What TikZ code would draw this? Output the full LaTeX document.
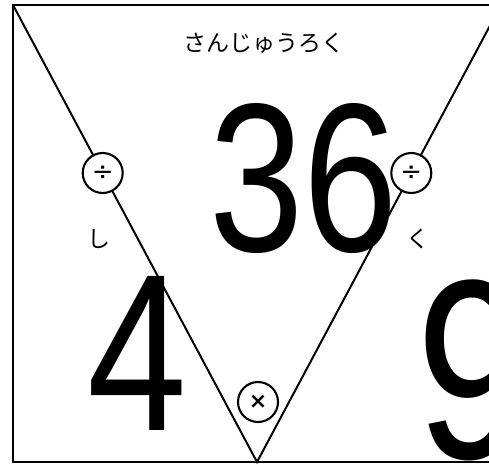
\documentclass[tikz,border=0pt]{standalone}
\usepackage{fontspec}
\usetikzlibrary{calc}
\setmainfont{Liberation Sans}
\newfontfamily\jpfont{Noto Sans CJK JP}
\newfontfamily\symfont{DejaVu Sans}
\newcommand{\bignum}[2]{\fontsize{#1}{#1}\selectfont\scalebox{0.8}[1]{#2}}
\begin{document}
\begin{tikzpicture}[x=1pt,y=-1pt,
  frameline/.style={line width=2.4pt},
  vline/.style={line width=2pt},
  opcirc/.style={circle,draw,fill=white,line width=2.1pt,minimum size=40pt,inner sep=0pt},
  kana/.style={font=\jpfont\fontsize{23}{23}\selectfont,inner sep=0pt},
  numtxt/.style={inner sep=0pt,anchor=base west}]
\clip (0,0) rectangle (489,464);
\fill[white] (0,0) rectangle (489,464);
\coordinate (tl) at (13,5);
\coordinate (tr) at (501,5);
\coordinate (br) at (501,462);
\coordinate (bl) at (13,462);
\coordinate (apex) at (257,462);
\draw[frameline] (tl) -- (tr) -- (br) -- (bl) -- cycle;
\draw[vline] (tl) -- (apex) -- (tr);
% big numbers
\node[numtxt] (n36) at (209,251) {\bignum{212}{36}};
\node[numtxt] (n4) at (87,430) {\bignum{224}{4}};
\node[numtxt] (n9) at (416,458) {\bignum{256}{9}};
% operators
\node[opcirc] (divl) at ($(tl)!0.3676!(apex)$) {\symfont\fontsize{26}{26}\selectfont ÷};
\node[opcirc] (divr) at ($(tr)!0.3676!(apex)$) {\symfont\fontsize{26}{26}\selectfont ÷};
\node[opcirc] (mul) at (258,402) {\symfont\bfseries\fontsize{22}{22}\selectfont ×};
% kana
\node[kana] (title) at (264,43) {さんじゅうろく};
\node[kana] (shi) at (99,239) {し};
\node[kana] (ku) at (418,239) {く};
\end{tikzpicture}
\end{document}
